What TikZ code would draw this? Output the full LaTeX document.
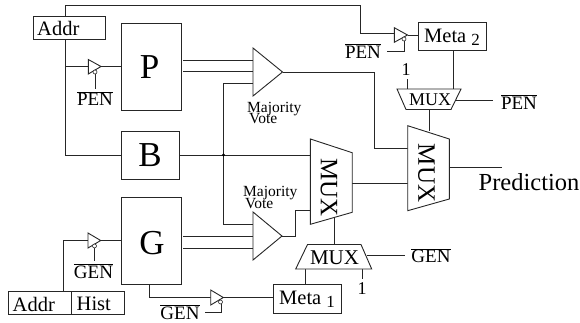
\documentclass[tikz,border=0pt]{standalone}
\usepackage{fontspec}
\setmainfont{Liberation Serif}
\lineskiplimit=-20pt\relax
\newcommand{\fs}[1]{\fontsize{#1}{#1}\selectfont}
\newcommand{\ovl}[1]{$\overline{\mbox{#1}}$}
\tikzset{
  wire/.style={line width=0.9pt,draw=black!85},
  gate/.style={line width=0.9pt,draw=black!85,fill=white,line join=miter},
  boxn/.style={draw=black!85,line width=0.9pt,inner sep=0pt,outer sep=0pt,fill=white},
  big/.style={inner sep=0pt,font=\fs{35}},
  lab/.style={inner sep=0pt,font=\fs{20.5}},
  sig/.style={inner sep=0pt,font=\fs{19}},
  small/.style={inner sep=0pt,anchor=west,align=left,font=\fontsize{15.5}{11.5}\selectfont},
  bub/.style={circle,draw=black!85,line width=0.6pt,fill=white,minimum size=4pt,inner sep=0pt},
}
\begin{document}
\begin{tikzpicture}[x=1pt,y=-1pt]
\useasboundingbox (0,0) rectangle (580,322);
% pins
\coordinate (tap) at (65,5.5);
\coordinate (tapc) at (360,5.5);
\coordinate (t1in) at (394,33.5);
\coordinate (t1out) at (407.5,35);
\coordinate (t2in) at (88.3,66.5);
\coordinate (t2out) at (101,66.5);
\coordinate (t3in) at (88,240.5);
\coordinate (t3out) at (100.7,240.5);
\coordinate (t4in) at (210.7,297.5);
\coordinate (t4out) at (223.3,297.5);
\coordinate (dot) at (223.5,155);
% boxes
\node[boxn,minimum width=71.5pt,minimum height=23pt] (addr) at (69.5,27.5) {};
\node[lab,anchor=west] (addrt) at (37,28) {Addr};
\node[boxn,minimum width=60.5pt,minimum height=86.5pt] (P) at (151.2,67) {};
\node[big] (Pt) at (149.5,67) {P};
\node[boxn,minimum width=58.5pt,minimum height=48pt] (B) at (150.2,155.5) {};
\node[big] (Bt) at (150,155) {B};
\node[boxn,minimum width=60.5pt,minimum height=86.5pt] (G) at (151.2,241) {};
\node[big] (Gt) at (152,243) {G};
\node[boxn,minimum width=68pt,minimum height=28.5pt] (M2) at (452.5,36.2) {};
\node[lab,anchor=west] (M2t) at (424,37) {Meta \raisebox{-3pt}{\fs{17}2}};
\node[boxn,minimum width=68pt,minimum height=29pt] (M1) at (307,298.5) {};
\node[lab,anchor=west] (M1t) at (279,299) {Meta \raisebox{-3pt}{\fs{17}1}};
\node[boxn,minimum width=115.5pt,minimum height=23pt] (AH) at (66.2,303) {};
\node[lab,anchor=west] (AHa) at (12.5,304) {Addr};
\node[lab,anchor=west] (AHh) at (76.5,304) {Hist};
% wires
\draw[wire] (addr.north -| tap) -- (tap) -- (tapc) -- (tapc |- t1in) -- (t1in);
\draw[wire] (addr.south -| tap) -- (tap |- B.west) -- (B.west);
\draw[wire] (tap |- t2in) -- (t2in);
\draw[wire] (t2out) -- (P.west |- t2out);
\draw[wire] (t1out) -- (M2.west |- t1out);
\coordinate (m2m) at (453,89);
\draw[wire] (M2.south -| m2m) -- (m2m);
\coordinate (one2) at (407,89);
\draw[wire] (407,79) -- (one2);
\coordinate (a1o) at (282.5,72);
\coordinate (m4) at (408,148.5);
\draw[wire] (a1o) -- (374,72) -- (374,148.5) -- (m4);
\draw[wire] (183,60) -- (253,60);
\draw[wire] (183,71.5) -- (253,71.5);
\draw[wire] (253,83.5) -- (223.5,83.5) -- (223.5,224) -- (253,224);
\draw[wire] (183,236) -- (253,236);
\draw[wire] (183,248) -- (253,248);
\draw[wire] (B.east |- dot) -- (310.5,155);
\fill[black] (dot) circle (1.7pt);
\draw[wire] (282,236) -- (295.5,236) -- (295.5,210.3) -- (310.5,210.3);
\draw[wire] (352,183) -- (408,183);
\draw[wire] (449,167.7) -- (502,167.7);
\draw[wire] (429,109.5) -- (429,131);
\draw[wire] (334.5,216) -- (334.5,244.5);
\draw[wire] (456,100) -- (493,100);
\draw[wire] (367,255.5) -- (405,255.5);
\draw[wire] (362,269) -- (362,279);
\draw[wire] (305,269) -- (305,284);
\draw[wire] (63.5,291.5) -- (63.5,240.5) -- (t3in);
\draw[wire] (t3out) -- (G.west |- t3out);
\draw[wire] (149.5,284.2) -- (149.5,297.5) -- (t4in);
\draw[wire] (t4out) -- (M1.west |- t4out);
\draw[wire] (71,291.5) -- (71,314.5);
\draw[wire] (95,74) -- (95,89);
\draw[wire] (94.5,248) -- (94.5,261);
\draw[wire] (387,51.5) -- (404,51.5) -- (404,41);
\draw[wire] (205,312.5) -- (221,312.5) -- (221,304);
% gates
\draw[gate] (253,48) -- (282.5,72) -- (253,96) -- cycle;
\draw[gate] (253,212) -- (282,236) -- (253,260) -- cycle;
\draw[gate] (394.3,27.7) -- (407.5,35) -- (394.3,42.3) -- cycle;
\draw[gate] (88.3,59.5) -- (101,66.5) -- (88.3,74) -- cycle;
\draw[gate] (88,233) -- (100.7,240.5) -- (88,248) -- cycle;
\draw[gate] (210.7,290) -- (223.3,297.5) -- (210.7,305) -- cycle;
\node[bub] (b1) at (404,39) {};
\node[bub] (b2) at (95,72) {};
\node[bub] (b3) at (94.5,246) {};
\node[bub] (b4) at (220.5,302) {};
\draw[gate] (397,89) -- (461,89) -- (451,109.5) -- (406,109.5) -- cycle;
\draw[gate] (307.5,244.5) -- (361,244.5) -- (371.7,269) -- (295.7,269) -- cycle;
\draw[gate] (407.7,125.7) -- (449.3,139) -- (449.3,199) -- (407.7,210.7) -- cycle;
\draw[gate] (310.4,139) -- (352.2,152.7) -- (352.2,212.3) -- (310.4,224.3) -- cycle;
% labels
\node[inner sep=0pt,font=\fs{18}] (mx1) at (430,99.5) {MUX};
\node[inner sep=0pt,font=\fs{21}] (mx2) at (334.5,258) {MUX};
\node[inner sep=0pt,rotate=-90,font=\fs{25}] (mx3) at (426.5,173) {MUX};
\node[inner sep=0pt,rotate=-90,font=\fs{25}] (mx4) at (329,187.5) {MUX};
\node[sig] (p1) at (95,98.5) {\ovl{PEN}};
\node[sig] (p2) at (363,51) {\ovl{PEN}};
\node[sig] (p3) at (519,102) {\ovl{PEN}};
\node[sig] (g1) at (93.5,271) {\ovl{GEN}};
\node[sig] (g2) at (180,312) {\ovl{GEN}};
\node[sig] (g3) at (431,255.5) {\ovl{GEN}};
\node[inner sep=0pt,font=\fs{18}] (o1) at (406,70) {1};
\node[inner sep=0pt,font=\fs{18}] (o2) at (362,289) {1};
\node[small] (mv1) at (247,113) {Majority\\[0pt]\hspace{2pt}Vote};
\node[small] (mv2) at (243,197.5) {Majority\\[0pt]\hspace{2pt}Vote};
\node[inner sep=0pt,anchor=west,font=\fs{24.5}] (pred) at (478.5,182) {Prediction};
\end{tikzpicture}
\end{document}
